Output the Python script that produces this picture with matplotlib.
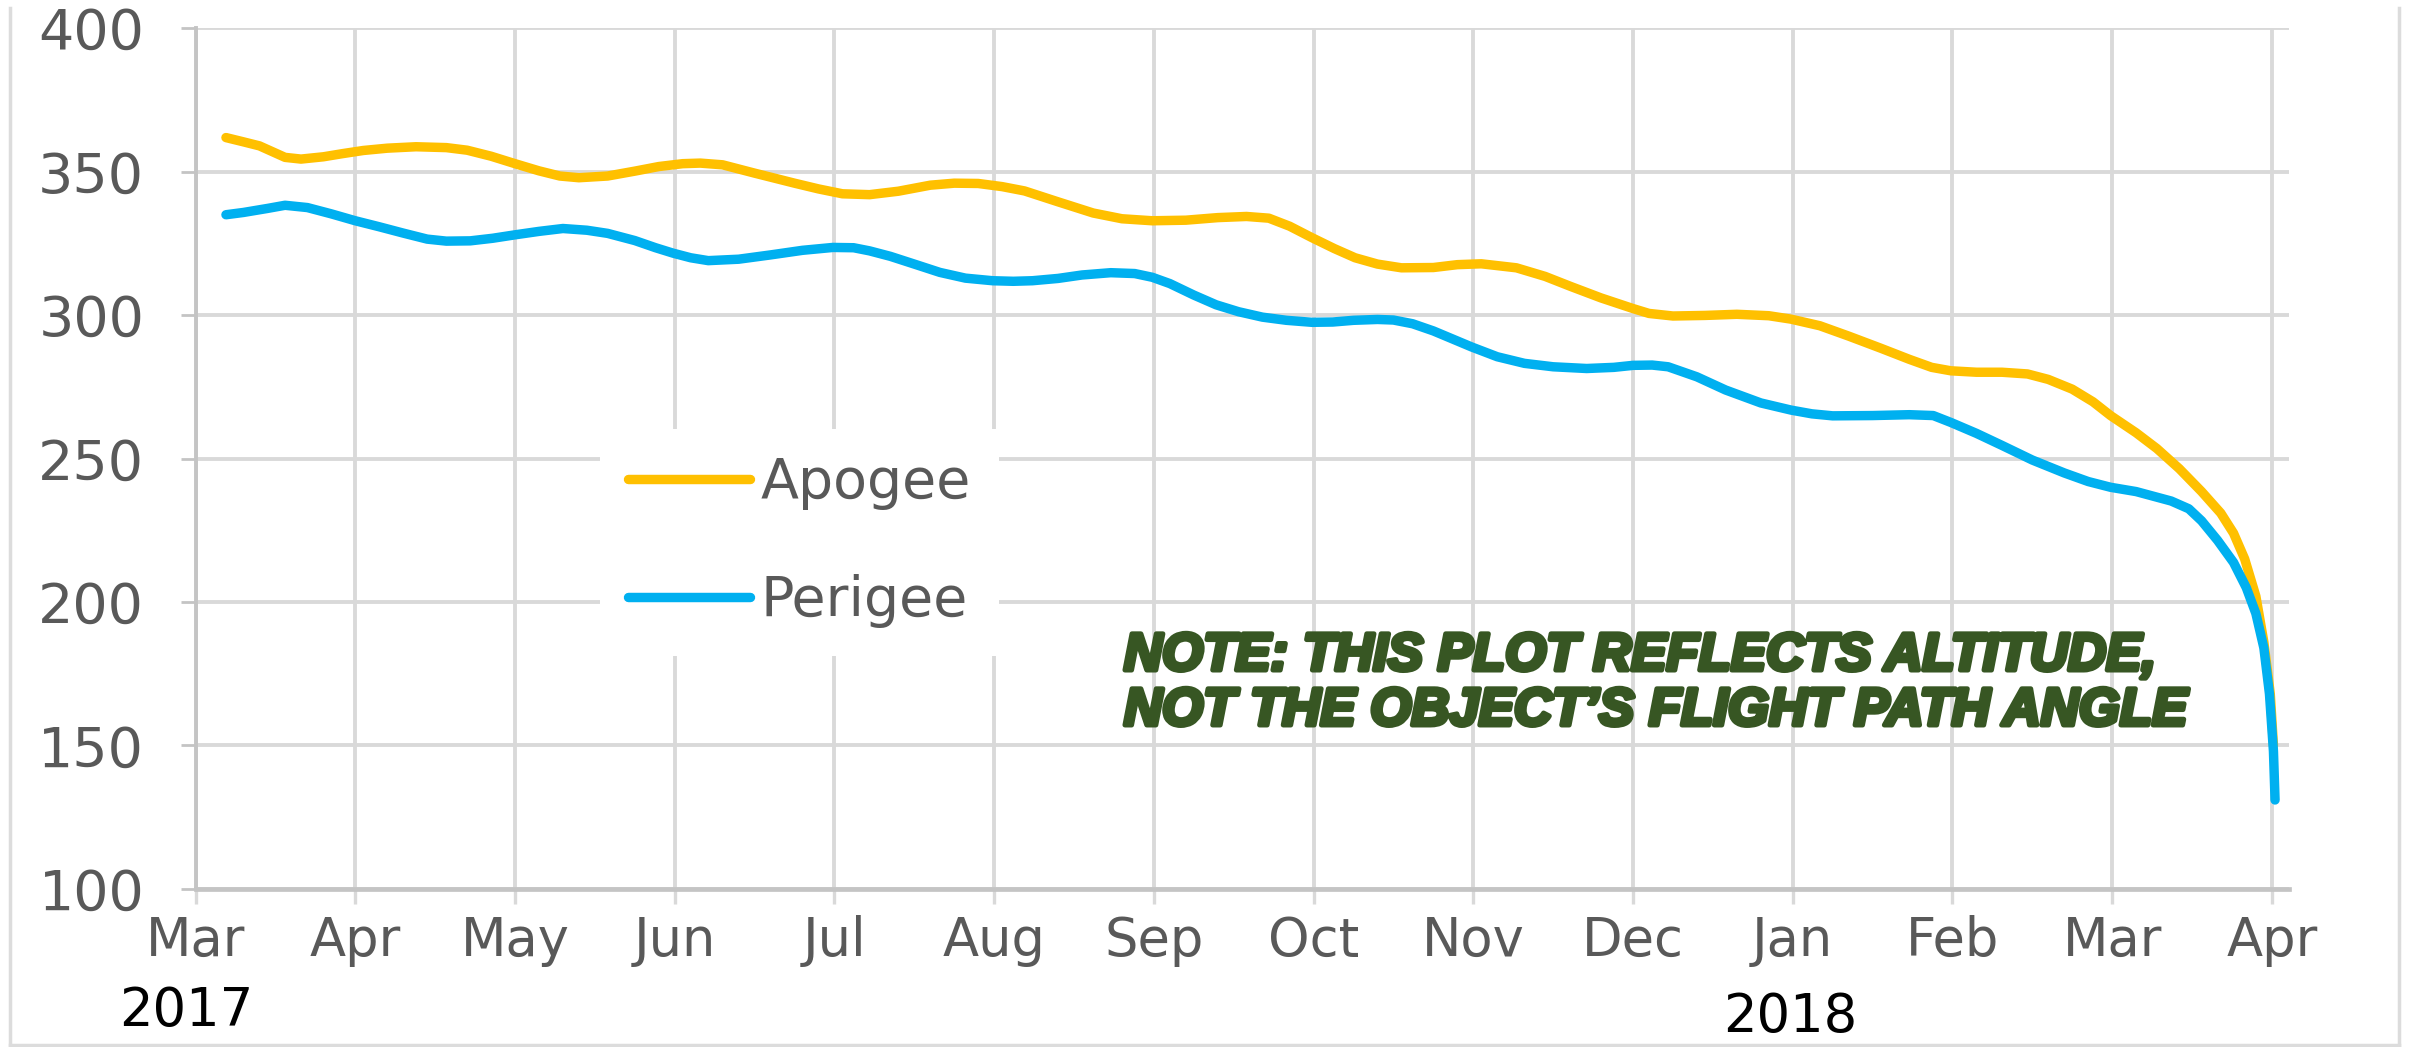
import numpy as np
import matplotlib
matplotlib.use("Agg")
import matplotlib.pyplot as plt
import matplotlib.patheffects as pe
from matplotlib.lines import Line2D

# month index counted from Mar 2017 (0) to Apr 2018 (13)
month_labels = ["Mar", "Apr", "May", "Jun", "Jul", "Aug", "Sep",
                "Oct", "Nov", "Dec", "Jan", "Feb", "Mar", "Apr"]

apo_t = [0.19, 0.3, 0.4, 0.48, 0.56, 0.66, 0.8, 0.92, 1.05, 1.2, 1.38, 1.57,
         1.7, 1.85, 2.0, 2.15, 2.28, 2.4, 2.58, 2.75, 2.9, 3.05, 3.16, 3.3,
         3.5, 3.75, 3.9, 4.05, 4.22, 4.4, 4.6, 4.75, 4.9, 5.05, 5.19, 5.4,
         5.62, 5.8, 5.99, 6.2, 6.4, 6.58, 6.72, 6.85, 6.99, 7.13, 7.26, 7.4,
         7.55, 7.75, 7.9, 8.05, 8.27, 8.45, 8.61, 8.8, 9.0, 9.1, 9.25, 9.45,
         9.65, 9.85, 9.99, 10.17, 10.35, 10.55, 10.73, 10.87, 10.99, 11.15,
         11.31, 11.47, 11.6, 11.75, 11.88, 11.99, 12.15, 12.28, 12.42, 12.56,
         12.68, 12.76, 12.83, 12.9, 12.95, 12.99, 13.01]
apo_v = [361.9, 360.4, 359.0, 357.0, 355.0, 354.4, 355.2, 356.3, 357.4, 358.2,
         358.7, 358.4, 357.5, 355.4, 352.8, 350.3, 348.5, 347.9, 348.5, 350.2,
         351.8, 352.8, 353.0, 352.4, 349.5, 346.0, 344.0, 342.3, 342.0, 343.2,
         345.3, 346.0, 345.9, 344.8, 343.3, 339.5, 335.6, 333.6, 332.9, 333.1,
         334.0, 334.4, 333.8, 331.0, 327.0, 323.2, 320.0, 317.8, 316.5, 316.6,
         317.6, 317.9, 316.5, 313.5, 310.0, 306.0, 302.3, 300.6, 299.7, 299.9,
         300.3, 299.8, 298.6, 296.3, 292.7, 288.5, 284.6, 281.8, 280.6, 280.1,
         280.1, 279.5, 277.6, 274.2, 269.8, 265.0, 259.0, 253.5, 246.5, 238.5,
         231.0, 224.0, 215.0, 202.0, 186.0, 168.0, 150.0]

peri_t = [0.19, 0.3, 0.45, 0.56, 0.7, 0.85, 1.0, 1.15, 1.3, 1.45, 1.57, 1.72,
          1.86, 2.0, 2.15, 2.3, 2.45, 2.58, 2.75, 2.88, 2.99, 3.1, 3.21, 3.4,
          3.6, 3.8, 3.99, 4.12, 4.22, 4.35, 4.5, 4.66, 4.82, 4.99, 5.12, 5.24,
          5.4, 5.55, 5.73, 5.88, 5.99, 6.1, 6.25, 6.39, 6.53, 6.68, 6.83, 6.99,
          7.12, 7.25, 7.4, 7.5, 7.62, 7.75, 7.99, 8.15, 8.32, 8.5, 8.71, 8.88,
          9.0, 9.12, 9.22, 9.4, 9.58, 9.8, 9.99, 10.12, 10.25, 10.5, 10.73,
          10.88, 10.99, 11.15, 11.31, 11.5, 11.7, 11.85, 11.99, 12.15, 12.37,
          12.48, 12.56, 12.66, 12.76, 12.84, 12.9, 12.95, 12.985, 13.01,
          13.02]
peri_v = [335.0, 335.8, 337.2, 338.3, 337.5, 335.3, 332.9, 330.8, 328.6, 326.5,
          325.8, 325.9, 326.8, 328.0, 329.2, 330.2, 329.6, 328.5, 326.0, 323.5,
          321.6, 320.0, 319.0, 319.5, 321.0, 322.6, 323.6, 323.5, 322.4, 320.5,
          317.8, 314.9, 312.9, 312.0, 311.8, 312.0, 312.8, 314.0, 314.8, 314.5,
          313.2, 311.0, 307.0, 303.6, 301.2, 299.3, 298.2, 297.5, 297.6, 298.2,
          298.5, 298.3, 297.0, 294.5, 288.9, 285.5, 283.2, 282.0, 281.4, 281.8,
          282.5, 282.6, 282.0, 278.5, 273.9, 269.4, 266.9, 265.6, 264.9, 265.0,
          265.3, 265.0, 262.6, 258.8, 254.6, 249.5, 245.0, 242.0, 240.0, 238.5,
          235.2, 232.5, 228.3, 221.5, 213.8, 205.0, 196.0, 184.0, 168.0, 148.0,
          131.0]

ANNOT = ["NOTE: THIS PLOT REFLECTS ALTITUDE,",
         "NOT THE OBJECT\u2019S FLIGHT PATH ANGLE"]

GRID = "#D9D9D9"
AXC = "#C4C4C4"
TXT = "#595959"
LW = 6.8

fig = plt.figure(figsize=(24.15, 10.47), dpi=100)
ax = fig.add_axes([0.081, 0.151, 0.867, 0.822])

ax.plot(apo_t, apo_v, color="#FFC000", lw=LW, solid_capstyle="round",
        solid_joinstyle="round", label="Apogee", zorder=3)
ax.plot(peri_t, peri_v, color="#00B0F0", lw=LW, solid_capstyle="round",
        solid_joinstyle="round", label="Perigee", zorder=3)

ax.set_xlim(0, 13.11)
ax.set_ylim(100, 400)
ax.set_xticks(np.arange(len(month_labels)))
ax.set_xticklabels(month_labels)
ax.set_yticks(np.arange(100, 401, 50))

ax.grid(True, color=GRID, lw=2.8, zorder=0)
ax.set_axisbelow(True)
for s in ["top", "right"]:
    ax.spines[s].set_visible(False)
ax.spines["left"].set_color(AXC)
ax.spines["left"].set_linewidth(2.8)
ax.spines["bottom"].set_color(AXC)
ax.spines["bottom"].set_linewidth(3.4)

ax.tick_params(axis="y", length=11, width=2.0, color=AXC, pad=26,
               labelsize=40, labelcolor=TXT)
ax.tick_params(axis="x", length=11, width=2.4, color=GRID, pad=8,
               labelsize=38, labelcolor=TXT)

leg = ax.legend(loc="center", bbox_to_anchor=(0.331, 0.482),
                bbox_transform=fig.transFigure, fontsize=40,
                handlelength=2.2, handletextpad=0.2, labelspacing=1.15,
                borderpad=0.5, frameon=True, fancybox=False)
leg.get_frame().set_facecolor("white")
leg.get_frame().set_edgecolor("none")
leg.get_frame().set_alpha(1)
for t in leg.get_texts():
    t.set_color(TXT)
for h in leg.get_lines():
    h.set_linewidth(LW)
    h.set_solid_capstyle("round")

fig.text(0.077, 0.034, "2017", fontsize=38, color="black",
         ha="center", va="center")
fig.text(0.7415, 0.029, "2018", fontsize=38, color="black",
         ha="center", va="center")

green = "#375623"
for txt, yy in zip(ANNOT, [0.360, 0.3075]):
    fig.text(0.4654, yy, txt, fontsize=38, color=green,
             family="Liberation Sans", weight="bold", style="italic",
             va="baseline", ha="left",
             path_effects=[pe.withStroke(linewidth=3.5, foreground=green)])

# light frame around the picture
for xs, ys in [([0.004, 0.004], [0.0, 0.992]),
               ([0.9935, 0.9935], [0.0, 0.992]),
               ([0.004, 0.9935], [0.0015, 0.0015])]:
    fig.add_artist(Line2D(xs, ys, color="#DCDCDC", lw=2.5,
                          transform=fig.transFigure))

fig.savefig("out.png", dpi=100)
